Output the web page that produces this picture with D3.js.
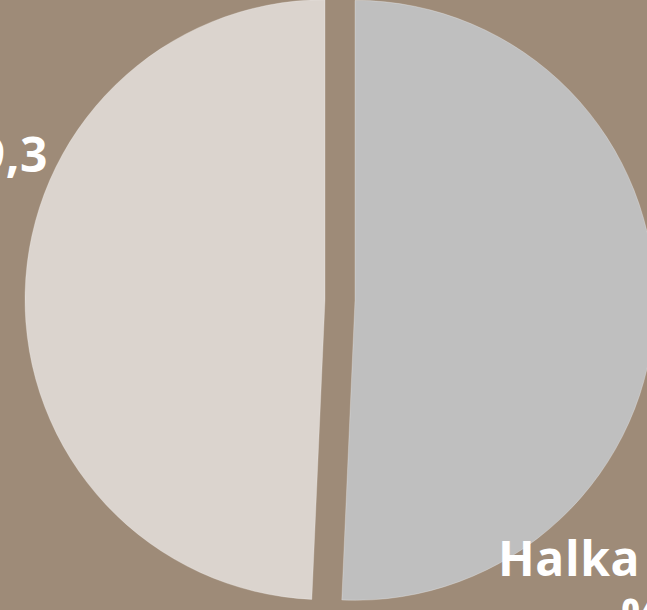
<!DOCTYPE html>
<html>
<head>
  <meta charset="utf-8">
  <title>pie</title>
  <script src="https://d3js.org/d3.v7.min.js"></script>
  <style>
    body { margin: 0; background: #9e8b78; overflow: hidden; }
    text { font-family: "Open Sans", sans-serif; font-weight: 700; fill: #fff; letter-spacing: 0.6px; }
  </style>
</head>
<body>
<div id="chart"></div>
<script>
// data
var categories = ["Halka", "Diğer"];
var values = [50.7, 49.3];
var colors = ["#bfbfbf", "#dbd4ce"];
var labels = ["%50,7", "%49,3"];

var width = 647, height = 610;
var radius = 300, explode = 15;

var svg = d3.select("#chart")
  .append("svg")
    .attr("width", width)
    .attr("height", height);

svg.append("rect")
  .attr("width", width)
  .attr("height", height)
  .attr("fill", "#9e8b78");

var g = svg.append("g")
  .attr("transform", "translate(340,300)");

var pie = d3.pie().sort(null).value(function(d) { return d; });
var arc = d3.arc().innerRadius(0).outerRadius(radius);
var arcs = pie(values);

// slices pushed out along their middle angle
g.selectAll("path")
  .data(arcs)
  .enter()
  .append("path")
    .attr("d", arc)
    .attr("fill", function(d, i) { return colors[i]; })
    .attr("stroke", "rgba(255,255,255,0.25)")
    .attr("stroke-width", 1)
    .attr("transform", function(d) {
      var mid = (d.startAngle + d.endAngle) / 2;
      return "translate(" + (Math.sin(mid) * explode) + "," + (-Math.cos(mid) * explode) + ")";
    });

// labels (partly outside the frame, as in the original crop)
var right = svg.append("text").attr("font-size", 48);
right.append("tspan").attr("x", 498).attr("y", 576).text(categories[0]);
right.append("tspan").attr("x", 621).attr("y", 634).text(labels[0]);

svg.append("text")
  .attr("font-size", 48)
  .attr("text-anchor", "end")
  .attr("x", 48)
  .attr("y", 172)
  .text(labels[1]);
</script>
</body>
</html>
